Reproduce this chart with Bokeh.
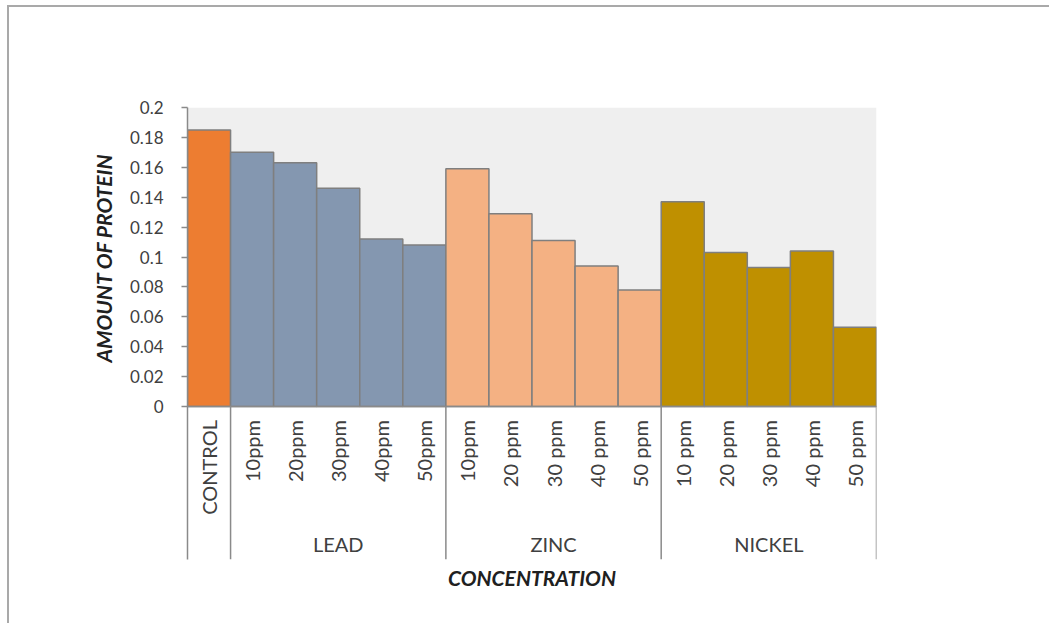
import math
from bokeh.plotting import figure
from bokeh.models import Range1d, FixedTicker, CustomJSTickFormatter, Title, ColumnDataSource
from bokeh.core.properties import value
from bokeh.embed import file_html
from bokeh.resources import INLINE

# ---- data ----
control_label = ["CONTROL"]
control_values = [0.185]
lead_labels = ["10ppm", "20ppm", "30ppm", "40ppm", "50ppm"]
lead_values = [0.170, 0.163, 0.146, 0.112, 0.108]
zinc_labels = ["10ppm", "20 ppm", "30 ppm", "40 ppm", "50 ppm"]
zinc_values = [0.159, 0.129, 0.111, 0.094, 0.078]
nickel_labels = ["10 ppm", "20 ppm", "30 ppm", "40 ppm", "50 ppm"]
nickel_values = [0.137, 0.103, 0.093, 0.104, 0.053]
group_names = ["", "LEAD", "ZINC", "NICKEL"]
group_colors = ["#ED7D31", "#8497B0", "#F4B183", "#BF9000"]
y_ticks = [0, 0.02, 0.04, 0.06, 0.08, 0.1, 0.12, 0.14, 0.16, 0.18, 0.2]
y_label = "AMOUNT OF PROTEIN"
x_label = "CONCENTRATION"

groups = [
    (control_label, control_values),
    (lead_labels, lead_values),
    (zinc_labels, zinc_values),
    (nickel_labels, nickel_values),
]

xs, tops, labels, colors = [], [], [], []
group_bounds = [0]
gx, gt = [], []
pos = 0
for gi, (labs, vals) in enumerate(groups):
    start = pos
    for lab, v in zip(labs, vals):
        xs.append(pos + 0.5)
        tops.append(v)
        labels.append(lab)
        colors.append(group_colors[gi])
        pos += 1
    group_bounds.append(pos)
    if group_names[gi]:
        gx.append((start + pos) / 2)
        gt.append(group_names[gi])

n = pos
y_top = y_ticks[-1]
y_bottom = -0.1023

TEXT = "#404040"
LINE = "#8a8a8a"
FONT = "Lato"

p = figure(
    frame_width=689, frame_height=452,
    x_range=Range1d(0, n), y_range=Range1d(y_bottom, y_top),
    output_backend="svg", toolbar_location=None,
    min_border_left=178, min_border_right=173, min_border_top=100, min_border_bottom=64,
)
p.styles = {"border-left": "2px solid #a9a9a9", "border-top": "2px solid #a9a9a9",
            "margin-left": "7px", "margin-top": "5px"}
p.outline_line_color = None
p.xgrid.visible = False
p.ygrid.visible = False
p.background_fill_color = "white"
p.border_fill_color = "white"

# plot area background
p.quad(left=[0], right=[n], bottom=[0], top=[y_top], fill_color="#EFEFEF", line_color=None)

src = ColumnDataSource(dict(x=xs, top=tops, label=labels, color=colors))
p.vbar(x="x", top="top", bottom=0, width=1, source=src, fill_color="color",
       line_color="#7f7f7f", line_width=1.5)

# x axis line and category separators
p.segment(x0=[0], y0=[0], x1=[n], y1=[0], line_color=LINE, line_width=1.5)
sep = group_bounds[1:]
p.segment(x0=sep, y0=[0] * len(sep), x1=sep, y1=[y_bottom] * len(sep), line_color=LINE, line_width=1.5)

# category labels
p.text(x="x", y=-0.009, text="label", source=src, angle=math.pi / 2,
       text_align="right", text_baseline="middle", text_color=TEXT,
       text_font=value(FONT), text_font_size="20px")
p.text(x=gx, y=[-0.0916] * len(gx), text=gt, text_align="center", text_baseline="middle",
       text_color=TEXT, text_font=value(FONT), text_font_size="20px")

# y axis
ya = p.yaxis[0]
ya.ticker = FixedTicker(ticks=y_ticks)
ya.formatter = CustomJSTickFormatter(code="return String(Math.round(tick*100)/100);")
ya.axis_line_color = LINE
ya.axis_line_width = 1.5
ya.major_tick_line_color = LINE
ya.major_tick_line_width = 1.5
ya.major_tick_out = 6
ya.major_tick_in = 0
ya.minor_tick_line_color = None
ya.major_label_standoff = 18
ya.major_label_text_font = FONT
ya.major_label_text_font_size = "17px"
ya.major_label_text_color = TEXT

# y title (placed over the 0..0.2 part of the frame)
yt = Title(text=y_label, align="right", offset=46, standoff=22,
           text_font=FONT, text_font_size="21px", text_font_style="bold italic",
           text_color="#202020")
p.add_layout(yt, "left")

# x axis: only the title
xa = p.xaxis[0]
xa.ticker = FixedTicker(ticks=[])
xa.axis_line_color = None
xa.major_tick_line_color = None
xa.minor_tick_line_color = None
xa.axis_label = x_label
xa.axis_label_standoff = 5
xa.axis_label_text_font = FONT
xa.axis_label_text_font_size = "21px"
xa.axis_label_text_font_style = "bold italic"
xa.axis_label_text_color = "#202020"

open("out.html", "w").write(file_html(p, INLINE))
